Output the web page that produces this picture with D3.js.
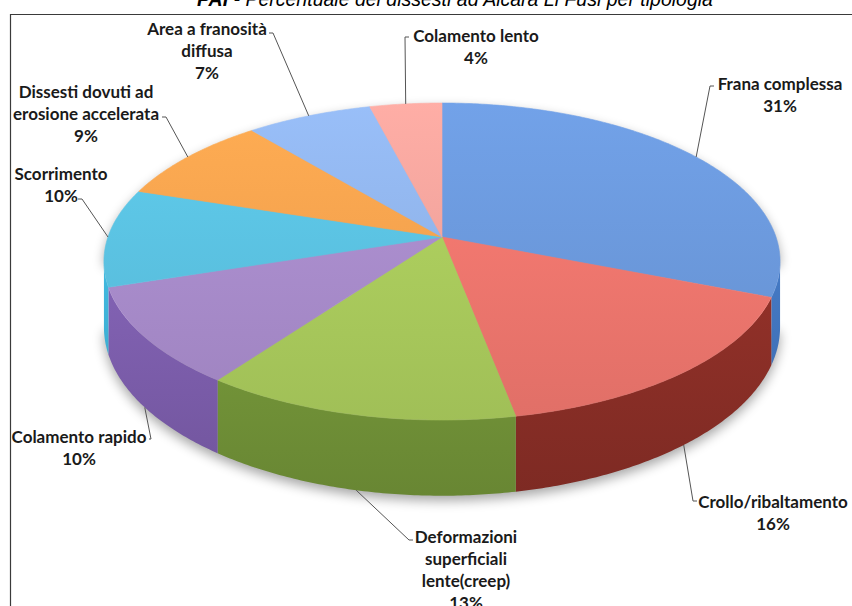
<!DOCTYPE html>
<html>
<head>
<meta charset="utf-8">
<script src="https://cdn.jsdelivr.net/npm/d3@7"></script>
<style>
  body { margin: 0; background: #fff; }
  svg { display: block; }
</style>
</head>
<body>
<svg id="mainSVG" width="852" height="606"></svg>
<script>
var $svg = d3.select("#mainSVG");

// Data
var categories = ['Frana complessa', 'Crollo/ribaltamento', 'Deformazioni superficiali lente(creep)',
    'Colamento rapido', 'Scorrimento', 'Dissesti dovuti ad erosione accelerata',
    'Area a franosità diffusa', 'Colamento lento'];
var percents = [31, 16, 13, 10, 10, 9, 7, 4];
var labelLines = [
    ['Frana complessa'],
    ['Crollo/ribaltamento'],
    ['Deformazioni', 'superficiali', 'lente(creep)'],
    ['Colamento rapido'],
    ['Scorrimento'],
    ['Dissesti dovuti ad', 'erosione accelerata'],
    ['Area a franosità', 'diffusa'],
    ['Colamento lento']
];
var topColors  = ['#6894d5','#e8736b','#a6c65a','#a488c6','#58bcdb','#f39e4c','#8cafe4','#eb9f98'];
var sideColors = ['#3d6db0','#842c25','#6e8d36','#7659a3','#3aa6c8','#c97a2e','#5f86c2','#c0716b'];

// Layout of labels: text centre, first baseline, leader attach point
var labelPos = [
    {x:780, y:90,  ax:714, ay:86,  dx:-4},
    {x:773, y:508, ax:697, ay:501, dx:-4},
    {x:466, y:543, ax:413, ay:540, dx:-4},
    {x:79,  y:443, ax:149, ay:439, dx:2},
    {x:61,  y:180, ax:78,  ay:199, dx:4},
    {x:86,  y:98,  ax:162, ay:117, dx:4},
    {x:207, y:35,  ax:269, ay:33,  dx:4},
    {x:476, y:42,  ax:409, ay:37,  dx:-4}
];

// Pie geometry (perspective view of a disc)
var cx = 442, cy = 237, rx = 334, ry = 154.7, k = 0.1547, depth = 64;
var lineH = 22;

function proj(theta, z){
    let u = Math.sin(theta), v = -Math.cos(theta), w = 1 - k*v;
    return [cx + rx*u/w, cy + ry*v/w + z*depth/w];
}
function arcPts(t0, t1, z){
    let n = Math.max(2, Math.ceil((t1-t0)/0.01));
    return d3.range(n+1).map(i=>proj(t0 + (t1-t0)*i/n, z));
}
var line = d3.line();

var arcs = d3.pie().sort(null).value(d=>d)(percents);
var visA = Math.acos(-k), visB = 2*Math.PI - Math.acos(-k);

// Title (cut off at the top of the picture)
$svg.append('text')
    .attr('x', 455).attr('y', 6)
    .attr('text-anchor', 'middle')
    .attr('font-family', 'Liberation Sans, Arial, sans-serif')
    .attr('font-size', 19.5).attr('font-style', 'italic')
    .call(t=>{
        t.append('tspan').attr('font-weight', 'bold').text('PAI');
        t.append('tspan').text(' - Percentuale dei dissesti ad Alcara Li Fusi per tipologia');
    });

// Frame
$svg.append('path')
    .attr('d', 'M 10.5 620 L 10.5 14.5 L 860 14.5')
    .attr('fill', 'none').attr('stroke', '#3a3a3a').attr('stroke-width', 1.2);

// Defs: gradients and shadow
var $defs = $svg.append('defs');
$defs.append('filter').attr('id', 'shadowBlur')
    .attr('x', '-20%').attr('y', '-20%').attr('width', '140%').attr('height', '140%')
    .append('feGaussianBlur').attr('stdDeviation', 6);

topColors.forEach((c, i)=>{
    let g = $defs.append('linearGradient').attr('id', 'topGrad'+i)
        .attr('gradientUnits', 'userSpaceOnUse')
        .attr('x1', 0).attr('x2', 0).attr('y1', 100).attr('y2', 425);
    g.append('stop').attr('offset', '0%').attr('stop-color', d3.color(c).brighter(0.25));
    g.append('stop').attr('offset', '100%').attr('stop-color', d3.color(c).darker(0.1));
});
sideColors.forEach((c, i)=>{
    let g = $defs.append('linearGradient').attr('id', 'sideGrad'+i)
        .attr('gradientUnits', 'userSpaceOnUse')
        .attr('x1', 0).attr('x2', 0).attr('y1', 270).attr('y2', 500);
    g.append('stop').attr('offset', '0%').attr('stop-color', d3.color(c).brighter(0.3));
    g.append('stop').attr('offset', '100%').attr('stop-color', d3.color(c).darker(0.15));
});

// Shadow under the pie
var outline = arcPts(visB - 2*Math.PI, visA, 0).reverse()
    .concat(arcPts(visA, visB, 1));
$svg.append('path')
    .attr('d', line(outline) + 'Z')
    .attr('transform', 'translate(0 5)')
    .attr('fill', '#000').attr('opacity', 0.35)
    .attr('filter', 'url(#shadowBlur)');

// Sides
var $pie = $svg.append('g').attr('id', 'pie');
$pie.append('g').attr('id', 'sides')
    .selectAll('path').data(arcs.filter(d=>d.endAngle > visA && d.startAngle < visB))
    .enter().append('path')
    .attr('fill', d=>`url(#sideGrad${d.index})`)
    .attr('d', d=>{
        let t0 = Math.max(d.startAngle, visA), t1 = Math.min(d.endAngle, visB);
        let pts = arcPts(t0, t1, 0).concat(arcPts(t0, t1, 1).reverse());
        return line(pts) + 'Z';
    });

// Top faces
$pie.append('g').attr('id', 'tops')
    .selectAll('path').data(arcs)
    .enter().append('path')
    .attr('fill', d=>`url(#topGrad${d.index})`)
    .attr('stroke', d=>`url(#topGrad${d.index})`).attr('stroke-width', 0.6)
    .attr('d', d=>line([[cx, cy]].concat(arcPts(d.startAngle, d.endAngle, 0))) + 'Z');

// Leader lines
$svg.append('g').attr('id', 'leaders')
    .selectAll('path').data(arcs)
    .enter().append('path')
    .attr('fill', 'none').attr('stroke', '#555').attr('stroke-width', 1)
    .attr('d', d=>{
        let mid = (d.startAngle + d.endAngle)/2;
        let z = (mid > visA && mid < visB) ? 1 : 0;
        let p = proj(mid, z);
        let lp = labelPos[d.index];
        return `M ${p[0]} ${p[1]} L ${lp.ax+lp.dx} ${lp.ay} L ${lp.ax} ${lp.ay}`;
    });

// Labels
var $labels = $svg.append('g').attr('id', 'labels')
    .attr('font-family', 'Lato, "Open Sans", sans-serif')
    .attr('font-weight', 'bold').attr('font-size', 17)
    .attr('fill', '#1a1a1a').attr('text-anchor', 'middle');

$labels.selectAll('text').data(arcs)
    .enter().append('text')
    .attr('x', d=>labelPos[d.index].x)
    .attr('y', d=>labelPos[d.index].y)
    .each(function(d){
        let lines = labelLines[d.index].concat([percents[d.index] + '%']);
        d3.select(this).selectAll('tspan').data(lines)
            .enter().append('tspan')
            .attr('x', labelPos[d.index].x)
            .attr('dy', (s, j)=>j ? lineH : 0)
            .text(s=>s);
    });
</script>
</body>
</html>
